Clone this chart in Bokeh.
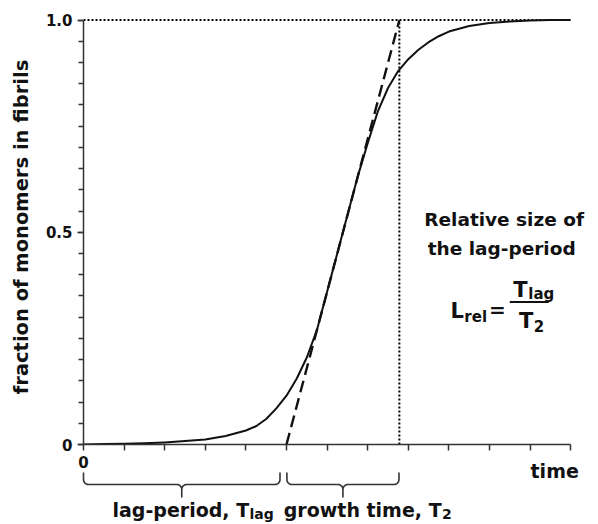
import numpy as np
from bokeh.plotting import figure
from bokeh.layouts import column
from bokeh.models import Range1d, FixedTicker
from bokeh.core.properties import value
from bokeh.embed import file_html
from bokeh.resources import INLINE

# ---------------- data ----------------
time_pts = [0, 0.5, 1, 1.5, 2, 2.5, 3, 3.5, 4, 4.25, 4.5, 4.75, 5, 5.25, 5.5, 5.75,
            6, 6.25, 6.5, 6.75, 7, 7.25, 7.5, 7.75, 8, 8.25, 8.5, 8.75, 9, 9.5,
            10, 10.5, 11, 11.5, 12]
fraction = [0, 0.001, 0.002, 0.003, 0.005, 0.008, 0.012, 0.02, 0.033, 0.043, 0.06,
            0.085, 0.115, 0.155, 0.205, 0.27, 0.36, 0.45, 0.54, 0.63, 0.71, 0.785,
            0.84, 0.88, 0.908, 0.93, 0.948, 0.962, 0.973, 0.986, 0.993, 0.997,
            0.999, 1.0, 1.0]
t_lag = 5.0          # end of lag period (tangent crosses 0)
t_2 = 2.78           # growth time (tangent goes from 0 to 1)
x_ticks = list(range(13))
x_tick_labels = ["0"]
y_major = [0, 0.5, 1.0]
y_tick_labels = {0: "0", 0.5: "0.5", 1: "1.0"}
y_minor = [round(0.05 * i, 2) for i in range(21)]

FONT = "DejaVu Sans"
INK = "#111111"
AX = "#333333"

# ---------------- layout constants ----------------
PXU = 40.6              # pixels per time unit
LEFT = 83               # frame left edge
FW = 505                # main frame width
RIGHT = 8
X_END = FW / PXU
STRIP_PAD = 81          # strip frame starts this many px left of time 0

p = figure(frame_width=FW, frame_height=435, x_range=Range1d(0, X_END), y_range=Range1d(0, 1.025),
           output_backend="svg", toolbar_location=None, frame_align=False,
           min_border_left=LEFT, min_border_right=RIGHT, min_border_top=9, min_border_bottom=10)
p.grid.visible = False
p.outline_line_color = None

xa = p.xaxis[0]
xa.ticker = FixedTicker(ticks=x_ticks)
xa.major_label_overrides = {t: "" for t in x_ticks}
xa.major_label_text_font_size = "1px"
xa.major_label_standoff = 0
xa.bounds = (x_ticks[0], x_ticks[-1])
xa.major_tick_in = 0
xa.major_tick_out = 6
xa.minor_tick_out = 0
xa.axis_line_width = 1.5
xa.axis_line_color = AX
xa.major_tick_line_color = AX
xa.major_tick_line_width = 1.5

ya = p.yaxis[0]
ya.ticker = FixedTicker(ticks=y_major, minor_ticks=y_minor)
ya.major_label_overrides = y_tick_labels
ya.bounds = (0, 1)
ya.major_tick_in = 0
ya.major_tick_out = 6
ya.minor_tick_in = 0
ya.minor_tick_out = 5
ya.axis_line_width = 1.5
ya.axis_line_color = AX
ya.major_tick_line_color = AX
ya.minor_tick_line_color = AX
ya.major_tick_line_width = 1.5
ya.minor_tick_line_width = 1.5
ya.major_label_standoff = 5
ya.major_label_text_font = FONT
ya.major_label_text_font_size = "15px"
ya.major_label_text_font_style = "bold"
ya.major_label_text_color = INK
ya.axis_label = "fraction of monomers in fibrils"
ya.axis_label_text_font = FONT
ya.axis_label_text_font_size = "19.5px"
ya.axis_label_text_font_style = "bold"
ya.axis_label_text_color = INK
ya.axis_label_standoff = 10

# reference lines
p.line([x_ticks[0], x_ticks[-1]], [1, 1], line_dash="2 2", line_width=2, color="#000000")
p.line([t_lag + t_2, t_lag + t_2], [0, 1], line_dash="2 2", line_width=2, color="#000000")
# tangent
p.line([t_lag, t_lag + t_2], [0, 1], line_dash="12 6", line_width=2.4, color=INK)
# kinetic curve
p.line(time_pts, fraction, line_width=2, color=INK, line_join="round")

def txt(fig, x, y, s, size, align="left"):
    fig.text(x=[x], y=[y], text=[s], text_font=value(FONT), text_font_style="bold",
             text_font_size=size, text_align=align, text_baseline="middle", text_color=INK)

txt(p, 10.36, 0.530, "Relative size of", "18.5px", "center")
txt(p, 10.30, 0.4615, "the lag-period", "18.5px", "center")
txt(p, 9.37, 0.3146, "L", "21px", "right")
txt(p, 9.38, 0.300, "rel", "15px", "left")
txt(p, 9.99, 0.318, "=", "20px", "left")
p.segment(x0=[10.50], y0=[0.3355], x1=[11.46], y1=[0.3355], line_width=2, color=INK)
txt(p, 10.94, 0.364, "T", "21px", "right")
txt(p, 10.955, 0.354, "lag", "15px", "left")
txt(p, 11.08, 0.291, "T", "21px", "right")
txt(p, 11.09, 0.279, "2", "15px", "left")

# ---------------- strip below the axis: tick label, axis title, braces ----------------
SH = 68
s = figure(frame_width=FW + STRIP_PAD, frame_height=SH,
           x_range=Range1d(-STRIP_PAD / PXU, X_END), y_range=Range1d(SH, 0),
           output_backend="svg", toolbar_location=None, x_axis_location=None, y_axis_location=None,
           frame_align=False,
           min_border_left=LEFT - STRIP_PAD, min_border_right=RIGHT, min_border_top=0, min_border_bottom=0)
s.grid.visible = False
s.outline_line_color = None

def brace(x0, x1, y_top, y_mid, y_tip, rx, ry):
    xc = (x0 + x1) / 2
    th = np.linspace(0, np.pi / 2, 9)
    xs = [x0]
    ys = [y_top]
    cx, cy = x0 + rx, y_mid - ry
    xs += list(cx - rx * np.cos(th)); ys += list(cy + ry * np.sin(th))
    cx, cy = xc - rx, y_mid + ry
    xs += list(cx + rx * np.sin(th)); ys += list(cy - ry * np.cos(th))
    xs += [xc]; ys += [y_tip]
    right_x = [2 * xc - v for v in reversed(xs)]
    right_y = list(reversed(ys))
    return xs + right_x, ys + right_y

txt(s, x_ticks[0], 7.5, x_tick_labels[0], "15px", "center")
txt(s, 12.2, 16, "time", "19px", "right")

brace_x0 = [0, t_lag + 0.01]
brace_x1 = [t_lag - 0.16, t_lag + t_2 - 0.01]
for a, b in zip(brace_x0, brace_x1):
    bx, by = brace(a, b, 18, 30, 43, 0.12, 5)
    s.line(bx, by, line_width=1.6, color=AX)

txt(s, 4.08, 55, "lag-period, T", "19px", "right")
txt(s, 4.09, 59, "lag", "14px", "left")
txt(s, 8.82, 55, "growth time, T", "19px", "right")
txt(s, 8.83, 59, "2", "14px", "left")

layout = column(p, s, spacing=0)
open("out.html", "w").write(file_html(layout, INLINE))
